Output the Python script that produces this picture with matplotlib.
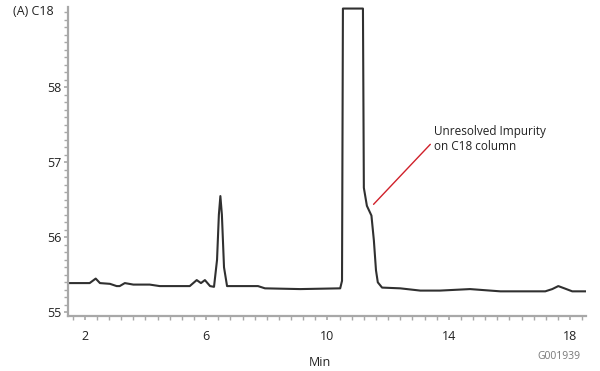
import matplotlib
matplotlib.use("Agg")
import matplotlib.pyplot as plt
from matplotlib.ticker import MultipleLocator

# Chromatogram trace: retention time (min) and detector response
time_min = [1.47, 1.83, 2.16, 2.36, 2.50, 2.83, 3.05, 3.15, 3.32, 3.60, 4.14,
            4.47, 5.14, 5.46, 5.69, 5.83, 5.96, 6.13, 6.26, 6.36, 6.42, 6.47,
            6.52, 6.59, 6.69, 7.12, 7.71, 7.94, 9.10, 10.42, 10.48, 10.51,
            11.17, 11.20, 11.30, 11.45, 11.53, 11.60, 11.66, 11.80, 12.40,
            13.06, 13.71, 14.70, 15.70, 16.69, 17.18, 17.41, 17.61, 17.81,
            18.07, 18.53]
response = [55.39, 55.39, 55.39, 55.45, 55.39, 55.38, 55.35, 55.35, 55.39,
            55.37, 55.37, 55.35, 55.35, 55.35, 55.43, 55.39, 55.43, 55.35,
            55.34, 55.70, 56.30, 56.55, 56.30, 55.60, 55.35, 55.35, 55.35,
            55.32, 55.31, 55.32, 55.42, 59.05, 59.05, 56.66, 56.42, 56.29,
            55.96, 55.56, 55.40, 55.33, 55.32, 55.29, 55.29, 55.31, 55.28,
            55.28, 55.28, 55.31, 55.35, 55.32, 55.28, 55.28]

x_ticks = [2, 6, 10, 14, 18]
y_ticks = [55, 56, 57, 58]

panel_title = "(A) C18"
x_title = "Min"
note_text = "Unresolved Impurity\non C18 column"
impurity_point = (11.52, 56.44)
note_anchor = (13.52, 57.13)
figure_code = "G001939"

plt.rcParams["font.family"] = ["Open Sans", "DejaVu Sans"]

fig = plt.figure(figsize=(6.0, 3.71), dpi=100)
ax = fig.add_axes([0.113, 0.148, 0.864, 0.833])

ax.plot(time_min, response, color="#303030", lw=1.5, solid_joinstyle="round")

ax.set_xlim(1.44, 18.53)
ax.set_ylim(54.95, 59.07)
ax.set_xticks(x_ticks)
ax.set_yticks(y_ticks)
ax.xaxis.set_minor_locator(MultipleLocator(0.4))
ax.yaxis.set_minor_locator(MultipleLocator(0.1))

for side in ("top", "right"):
    ax.spines[side].set_visible(False)
for side in ("left", "bottom"):
    ax.spines[side].set_color("#a8a8a8")
    ax.spines[side].set_linewidth(1.6)

ax.tick_params(which="both", colors="#a8a8a8", direction="out")
ax.tick_params(which="major", length=3, width=1.2, labelcolor="#222222",
               labelsize=9)
ax.tick_params(which="minor", length=3, width=1.0)
ax.tick_params(axis="y", which="major", pad=1.5)
ax.tick_params(axis="x", which="major", pad=7)

ax.text(-0.105, 0.985, panel_title, transform=ax.transAxes, fontsize=9,
        color="#222222", ha="left", va="center")
fig.text(0.533, 0.0216, x_title, fontsize=9, color="#222222",
         ha="center", va="center")
fig.text(0.967, 0.040, figure_code, fontsize=7.5, color="#777777",
         ha="right", va="center")

ax.annotate(note_text, xy=impurity_point, xytext=note_anchor,
            fontsize=8.5, color="#222222", ha="left", va="bottom",
            linespacing=1.15,
            arrowprops=dict(arrowstyle="-", color="#d0202a", lw=1.0,
                            shrinkA=0, shrinkB=0,
                            relpos=(-0.035, 0.3)))

fig.savefig("out.png", dpi=100)
